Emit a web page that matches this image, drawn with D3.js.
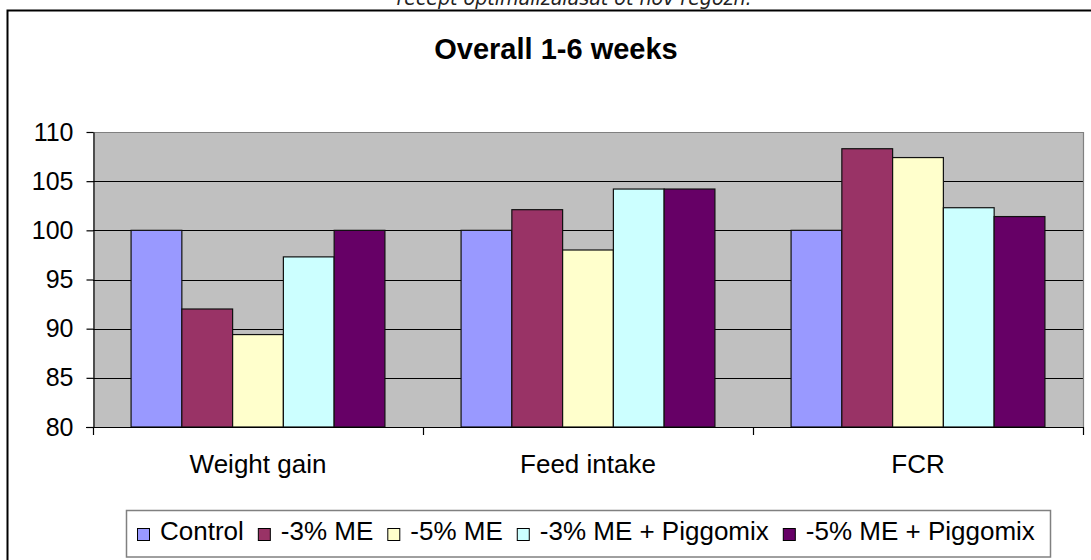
<!DOCTYPE html>
<html>
<head>
<meta charset="utf-8">
<script src="https://cdn.jsdelivr.net/npm/d3@7"></script>
<style>
  html, body { margin: 0; padding: 0; background: #fff; }
  svg { display: block; }
  text { font-family: "Liberation Sans", Arial, sans-serif; fill: #000; }
</style>
</head>
<body>
<svg id="chart" width="1091" height="560"></svg>
<script>
// ---- data ----
const categories = ["Weight gain", "Feed intake", "FCR"];
const seriesNames = ["Control", "-3% ME", "-5% ME", "-3% ME + Piggomix", "-5% ME + Piggomix"];
const control      = [100, 100, 100];
const minus3ME     = [92.0, 102.1, 108.3];
const minus5ME     = [89.4, 98.0, 107.4];
const minus3MEPig  = [97.3, 104.2, 102.3];
const minus5MEPig  = [100, 104.2, 101.4];
const seriesValues = [control, minus3ME, minus5ME, minus3MEPig, minus5MEPig];
const seriesColors = ["#9999FF", "#993366", "#FFFFCC", "#CCFFFF", "#660066"];
const yTicks = [80, 85, 90, 95, 100, 105, 110];
const titleText = "Overall 1-6 weeks";
const topText = "recept optimalizálásat ot nov regozn.";

// ---- layout ----
const svg = d3.select("#chart");
const plot = { left: 93, right: 1083, top: 132, bottom: 427 };

// outer chart border
svg.append("path")
  .attr("d", `M7.5,560 V10.5 H1091`)
  .attr("fill", "none").attr("stroke", "#000").attr("stroke-width", 2);

// cut-off text above the chart
svg.append("text")
  .attr("x", 574).attr("y", 5)
  .attr("text-anchor", "middle")
  .style("font-family", "'DejaVu Sans', sans-serif")
  .style("font-style", "italic")
  .style("font-size", "19px")
  .style("fill", "#222")
  .text(topText);

// title
svg.append("text")
  .attr("x", 556).attr("y", 59)
  .attr("text-anchor", "middle")
  .style("font-weight", "bold")
  .style("font-size", "29px")
  .text(titleText);

// scales
const y = d3.scaleLinear().domain([80, 110]).range([plot.bottom, plot.top]);
const x0 = d3.scaleBand().domain(categories).range([plot.left, plot.right]).paddingInner(0).paddingOuter(0);
const bw = x0.bandwidth();
const groupW = bw * 5 / 6.5;
const x1 = d3.scaleBand().domain(seriesNames).range([(bw - groupW) / 2, (bw + groupW) / 2]);

// plot background
svg.append("rect")
  .attr("x", plot.left).attr("y", plot.top)
  .attr("width", plot.right - plot.left).attr("height", plot.bottom - plot.top)
  .attr("fill", "#C0C0C0");

// gridlines
svg.append("g").selectAll("line")
  .data(yTicks.filter(t => t > 80 && t < 110))
  .join("line")
  .attr("x1", plot.left).attr("x2", plot.right)
  .attr("y1", d => Math.round(y(d)) + 0.5).attr("y2", d => Math.round(y(d)) + 0.5)
  .attr("stroke", "#000").attr("stroke-width", 1.2);

// plot border (top + right)
svg.append("path")
  .attr("d", `M${plot.left},${plot.top + 0.5} H${plot.right + 0.5} V${plot.bottom}`)
  .attr("fill", "none").attr("stroke", "#808080").attr("stroke-width", 1.2);

// bars
const groups = svg.append("g").selectAll("g")
  .data(categories)
  .join("g")
  .attr("transform", d => `translate(${x0(d)},0)`);

groups.selectAll("rect")
  .data((c, ci) => seriesNames.map((s, si) => ({ s, si, v: seriesValues[si][ci] })))
  .join("rect")
  .attr("x", d => x1(d.s))
  .attr("width", x1.bandwidth())
  .attr("y", d => y(d.v))
  .attr("height", d => y(80) - y(d.v))
  .attr("fill", d => seriesColors[d.si])
  .attr("stroke", "#111").attr("stroke-width", 1.2);

// y axis
const yAxis = svg.append("g")
  .attr("transform", `translate(${plot.left + 0.5},0)`)
  .call(d3.axisLeft(y).tickValues(yTicks).tickSize(7).tickSizeOuter(0).tickPadding(13));
yAxis.select(".domain").attr("stroke", "#000").attr("stroke-width", 1.2);
yAxis.selectAll(".tick line").attr("stroke", "#000").attr("stroke-width", 1.2);
yAxis.selectAll(".tick text")
  .style("font-family", "'Liberation Sans', Arial, sans-serif")
  .style("font-size", "25px").attr("fill", "#000");

// x axis line
svg.append("line")
  .attr("x1", plot.left - 7).attr("x2", plot.right)
  .attr("y1", plot.bottom + 0.5).attr("y2", plot.bottom + 0.5)
  .attr("stroke", "#000").attr("stroke-width", 1.2);

// category boundary ticks
const boundaries = categories.map(c => x0(c)).concat([x0(categories[categories.length - 1]) + bw]);
svg.append("g").selectAll("line")
  .data(boundaries)
  .join("line")
  .attr("x1", d => Math.round(d) + 0.5).attr("x2", d => Math.round(d) + 0.5)
  .attr("y1", plot.bottom).attr("y2", plot.bottom + 8)
  .attr("stroke", "#000").attr("stroke-width", 1.2);

// category labels
svg.append("g").selectAll("text")
  .data(categories)
  .join("text")
  .attr("x", d => x0(d) + bw / 2)
  .attr("y", 473)
  .attr("text-anchor", "middle")
  .style("font-size", "26px")
  .text(d => d);

// legend
const legend = svg.append("g");
const legendBox = legend.append("rect")
  .attr("x", 126.5).attr("y", 510.5)
  .attr("width", 924).attr("height", 46.5)
  .attr("fill", "#fff").attr("stroke", "#808080").attr("stroke-width", 1.5);

let lx = 137;
seriesNames.forEach((name, i) => {
  legend.append("rect")
    .attr("x", lx + 0.5).attr("y", 528.5)
    .attr("width", 12).attr("height", 12)
    .attr("fill", seriesColors[i])
    .attr("stroke", "#000").attr("stroke-width", 1);
  const t = legend.append("text")
    .attr("x", lx + 23).attr("y", 540)
    .style("font-size", "26px")
    .text(name);
  const w = t.node().getComputedTextLength();
  lx = lx + 23 + w + 14;
});
</script>
</body>
</html>
